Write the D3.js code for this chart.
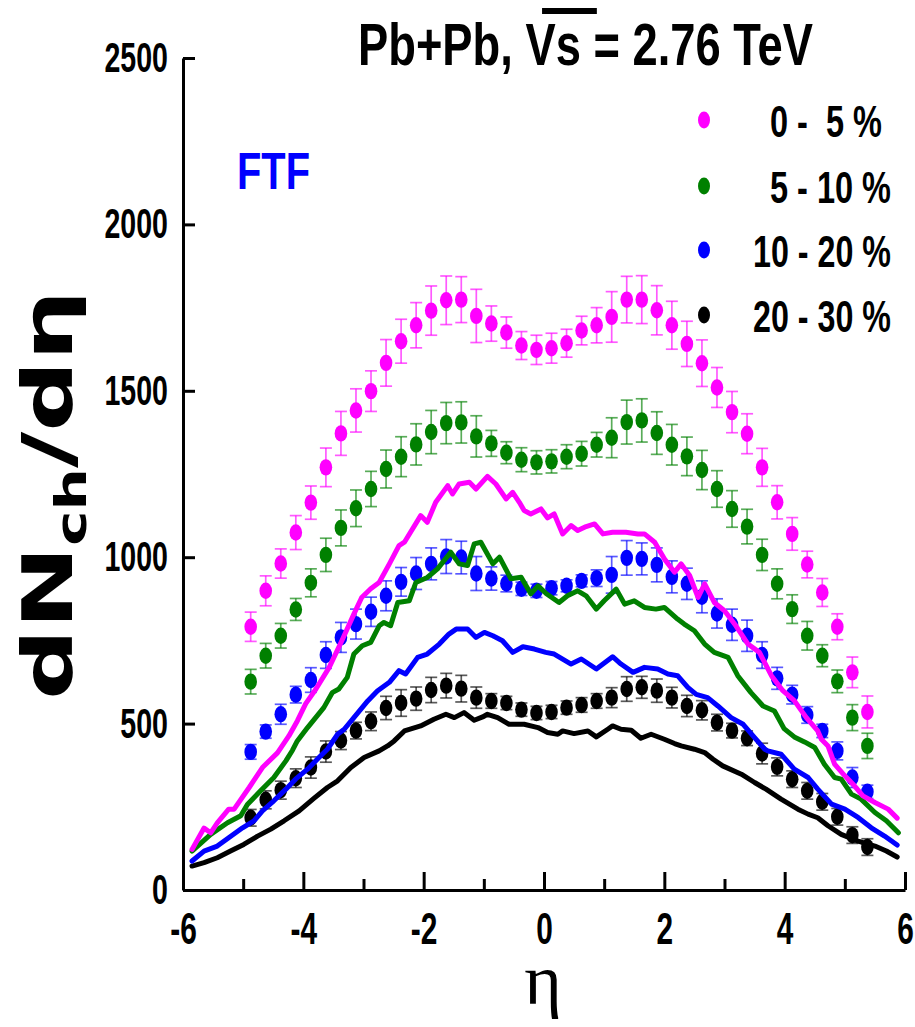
<!DOCTYPE html>
<html><head><meta charset="utf-8">
<script src="https://cdn.jsdelivr.net/npm/d3@7"></script>
<style>
html,body{margin:0;padding:0;background:#fff;}
svg{display:block;}
text{font-family:"Liberation Sans",Arial,sans-serif;font-weight:bold;}
</style></head><body>
<svg id="c" width="915" height="1027"></svg>
<script>
// ---------- data ----------
const etaData = [-4.875,-4.625,-4.375,-4.125,-3.875,-3.625,-3.375,-3.125,-2.875,-2.625,-2.375,-2.125,-1.875,-1.625,-1.375,-1.125,-0.875,-0.625,-0.375,-0.125,
  0.125,0.375,0.625,0.875,1.125,1.375,1.625,1.875,2.125,2.375,2.625,2.875,3.125,3.375,3.625,3.875,4.125,4.375,4.625,4.875,5.125,5.375];
const centralityLabels = ["0 -  5 %","5 - 10 %","10 - 20 %","20 - 30 %"];
const seriesColors = ["#ff00ff","#008000","#0000ff","#000000"];

const data0_5   = [791,899,981,1074,1164,1270,1372,1441,1499,1584,1649,1697,1741,1772,1774,1725,1702,1675,1636,1623,
  1628,1643,1681,1697,1722,1774,1774,1742,1697,1641,1583,1510,1436,1371,1270,1165,1070,978,894,791,654,535];
const err0_5    = [44,45,44,51,50,58,66,65,61,70,66,68,74,73,69,80,53,47,42,44,45,42,43,53,76,70,72,74,72,68,70,60,62,60,57,50,49,40,42,39,46,48];
const data5_10  = [626,704,764,843,923,1007,1088,1147,1205,1265,1302,1339,1376,1403,1405,1363,1342,1314,1293,1285,
  1288,1302,1311,1338,1359,1406,1411,1373,1338,1303,1262,1205,1145,1092,1007,920,844,764,704,627,518,433];
const err5_10   = [37,37,37,33,42,50,54,55,53,57,60,62,65,62,62,62,39,33,36,35,35,36,37,37,60,66,65,64,61,58,59,55,55,52,47,45,43,43,33,34,39,38];
const data10_20 = [415,476,528,587,631,706,759,799,836,884,926,951,980,1002,999,951,936,921,905,899,
  907,914,929,937,947,998,995,977,941,920,881,831,797,764,706,636,587,526,478,418,338,295];
const err10_20  = [22,20,30,25,37,40,45,45,44,45,43,48,48,51,49,51,35,25,20,20,20,18,18,25,55,52,48,51,48,47,48,44,47,47,40,33,28,25,20,27,30,20];
const data20_30 = [217,271,300,336,368,416,449,479,507,547,562,575,601,614,605,578,568,562,542,532,
  535,548,556,568,578,604,609,599,578,553,540,503,479,456,410,370,333,298,265,220,165,129];
const err20_30  = [25,27,27,28,32,32,27,25,28,35,40,35,38,37,40,32,22,20,20,20,20,20,22,22,30,37,33,35,31,32,29,25,22,22,31,27,25,25,25,25,25,25];

// FTF model curves [eta, dN/deta]
const ftf0_5 = [[-5.85,122],[-5.65,186],[-5.54,172],[-5.43,202],[-5.24,243],[-5.15,243],[-4.90,308],[-4.68,368],[-4.43,412],[-4.24,463],[-4.10,508],[-3.96,560],
  [-3.79,604],[-3.57,669],[-3.36,749],[-3.16,829],[-3.03,879],[-2.88,905],[-2.74,924],[-2.57,980],[-2.41,1035],[-2.32,1045],[-2.05,1125],[-1.94,1105],[-1.80,1165],
  [-1.60,1215],[-1.52,1190],[-1.41,1220],[-1.24,1225],[-1.13,1205],[-0.94,1243],[-0.80,1220],[-0.63,1175],[-0.52,1195],[-0.41,1165],[-0.33,1140],[-0.22,1130],
  [-0.05,1145],[0.06,1118],[0.17,1130],[0.31,1070],[0.45,1095],[0.56,1080],[0.70,1092],[0.84,1100],[0.98,1070],[1.14,1075],[1.36,1075],[1.56,1070],[1.67,1070],
  [1.84,1045],[2.00,995],[2.17,955],[2.28,980],[2.42,945],[2.56,879],[2.67,920],[2.83,864],[3.00,839],[3.19,794],[3.39,739],[3.58,714],[3.78,644],[3.97,599],
  [4.16,569],[4.36,518],[4.55,478],[4.61,453],[4.72,433],[4.83,378],[5.00,343],[5.16,313],[5.30,283],[5.50,263],[5.72,243],[5.87,216]];
const ftf5_10 = [[-5.85,117],[-5.54,167],[-5.26,202],[-5.04,223],[-4.93,257],[-4.71,298],[-4.49,338],[-4.29,388],[-4.18,420],[-4.10,448],[-3.93,488],
  [-3.66,548],[-3.52,593],[-3.41,604],[-3.27,639],[-3.16,709],[-3.02,734],[-2.88,744],[-2.74,794],[-2.66,804],[-2.55,794],[-2.43,864],[-2.24,869],[-2.13,924],
  [-1.94,939],[-1.77,965],[-1.55,1015],[-1.41,980],[-1.27,975],[-1.16,1040],[-1.05,1045],[-0.85,980],[-0.74,1000],[-0.55,935],[-0.38,940],[-0.22,890],[-0.10,914],
  [0.04,890],[0.25,864],[0.39,884],[0.56,899],[0.70,884],[0.87,844],[1.00,869],[1.20,904],[1.34,859],[1.50,869],[1.67,849],[1.86,844],[2.00,849],[2.22,814],
  [2.33,799],[2.50,779],[2.67,739],[2.83,714],[3.06,699],[3.22,644],[3.44,593],[3.64,553],[3.83,538],[3.99,485],[4.16,460],[4.33,445],[4.50,428],[4.66,378],
  [4.83,338],[4.94,333],[5.11,288],[5.27,273],[5.50,233],[5.69,208],[5.89,172]];
const ftf10_20 = [[-5.85,87],[-5.65,117],[-5.43,132],[-5.24,157],[-5.01,187],[-4.82,208],[-4.68,238],[-4.49,268],[-4.29,303],[-4.13,333],[-3.93,363],[-3.74,398],
  [-3.60,423],[-3.43,468],[-3.32,483],[-3.16,518],[-2.93,568],[-2.77,598],[-2.57,624],[-2.41,659],[-2.30,649],[-2.10,699],[-1.94,709],[-1.74,739],[-1.58,769],
  [-1.46,784],[-1.27,784],[-1.13,759],[-0.99,774],[-0.85,764],[-0.69,749],[-0.52,714],[-0.35,731],[-0.16,724],[0.03,714],[0.17,709],[0.45,679],[0.62,694],
  [0.87,664],[1.14,701],[1.28,679],[1.48,654],[1.67,669],[1.89,664],[2.06,649],[2.22,644],[2.39,609],[2.53,588],[2.72,578],[2.89,553],[3.11,518],[3.31,498],
  [3.50,458],[3.67,423],[3.72,418],[3.94,408],[4.16,363],[4.39,338],[4.55,303],[4.78,258],[5.00,243],[5.22,218],[5.44,187],[5.66,162],[5.87,135]];
const ftf20_30 = [[-5.85,72],[-5.65,82],[-5.43,97],[-5.21,117],[-4.99,137],[-4.76,162],[-4.54,183],[-4.32,208],[-4.07,238],[-3.82,276],[-3.60,308],[-3.43,328],
  [-3.21,368],[-2.99,398],[-2.74,418],[-2.60,433],[-2.49,448],[-2.32,478],[-2.05,493],[-1.83,513],[-1.63,528],[-1.49,518],[-1.33,533],[-1.16,510],[-1.02,520],
  [-0.94,528],[-0.77,518],[-0.58,498],[-0.33,498],[-0.10,488],[0.06,473],[0.23,468],[0.31,478],[0.50,470],[0.73,478],[0.87,460],[1.06,483],[1.14,493],[1.28,483],
  [1.45,480],[1.61,456],[1.78,468],[2.00,453],[2.17,440],[2.28,433],[2.50,423],[2.67,413],[2.81,393],[2.97,373],[3.28,348],[3.50,323],[3.69,303],[3.94,273],
  [4.22,243],[4.39,228],[4.55,217],[4.72,193],[4.94,167],[5.22,147],[5.50,132],[5.69,117],[5.87,99]];

const xTicks = [-6,-4,-2,0,2,4,6];
const xMinorTicks = [-5,-3,-1,1,3,5];
const yTicks = [0,500,1000,1500,2000,2500];

// ---------- drawing ----------
const svg = d3.select("#c");
const x = d3.scaleLinear().domain([-6,6]).range([183,905]);
const y = d3.scaleLinear().domain([0,2500]).range([890,58]);

function narrow(sel, f){
  sel.each(function(){
    const L = this.getComputedTextLength();
    this.setAttribute("textLength", (L*f).toFixed(1));
    this.setAttribute("lengthAdjust","spacingAndGlyphs");
  });
}

const points = [data0_5, data5_10, data10_20, data20_30];
const errors = [err0_5, err5_10, err10_20, err20_30];
const curves = [ftf0_5, ftf5_10, ftf10_20, ftf20_30];

// data points with error bars
points.forEach((vals, si) => {
  const col = seriesColors[si];
  const g = svg.append("g");
  const rows = etaData.map((e,i)=>({eta:e, v:vals[i], err:errors[si][i]}));
  const eb = g.append("g").attr("stroke", col).attr("stroke-opacity",0.65).attr("stroke-width",1.7);
  eb.selectAll("line.v").data(rows).join("line").attr("class","v")
    .attr("x1",d=>x(d.eta)).attr("x2",d=>x(d.eta)).attr("y1",d=>y(d.v-d.err)).attr("y2",d=>y(d.v+d.err));
  eb.selectAll("line.t").data(rows).join("line").attr("class","t")
    .attr("x1",d=>x(d.eta)-6).attr("x2",d=>x(d.eta)+6).attr("y1",d=>y(d.v+d.err)).attr("y2",d=>y(d.v+d.err));
  eb.selectAll("line.b").data(rows).join("line").attr("class","b")
    .attr("x1",d=>x(d.eta)-6).attr("x2",d=>x(d.eta)+6).attr("y1",d=>y(d.v-d.err)).attr("y2",d=>y(d.v-d.err));
  g.selectAll("ellipse").data(rows).join("ellipse")
    .attr("cx",d=>x(d.eta)).attr("cy",d=>y(d.v)).attr("rx",6.3).attr("ry",8.2).attr("fill",col);
});

// model curves (drawn on top)
const line = d3.line().x(d=>x(d[0])).y(d=>y(d[1]));
[3,2,1,0].forEach(si=>{
  svg.append("path").datum(curves[si]).attr("d",line).attr("fill","none")
    .attr("stroke",seriesColors[si]).attr("stroke-width",5).attr("stroke-linejoin","round").attr("stroke-linecap","round");
});

// axes
const gx = svg.append("g").attr("transform","translate(0,890)")
  .call(d3.axisBottom(x).tickValues(xTicks).tickSize(-18).tickSizeOuter(0).tickPadding(23).tickFormat(d=>String(d)));
const gxm = svg.append("g").attr("transform","translate(0,890)")
  .call(d3.axisBottom(x).tickValues(xMinorTicks).tickSize(-11).tickSizeOuter(0).tickFormat(""));
gxm.select(".domain").remove();
const gy = svg.append("g").attr("transform","translate(183,0)")
  .call(d3.axisLeft(y).tickValues(yTicks).tickSize(-12).tickSizeOuter(0).tickPadding(15).tickFormat(d=>String(d)));
[gx,gxm,gy].forEach(g=>{
  g.attr("font-size",44).attr("font-family",null);
  g.selectAll(".domain").attr("stroke","#000").attr("stroke-width",3);
  g.selectAll(".tick line").attr("stroke","#000").attr("stroke-width",3);
  g.selectAll(".tick text").attr("fill","#000");
});
gy.attr("font-size",42);
narrow(gx.selectAll(".tick text"), 0.68);
narrow(gy.selectAll(".tick text"), 0.68);

// axis titles
svg.append("text").attr("x",543).attr("y",1004).attr("text-anchor","middle")
  .style("font-family","'Liberation Serif','Times New Roman',serif").style("font-weight","normal")
  .attr("font-size",72).text("η");

const yl = svg.append("text").attr("transform","translate(72,700) rotate(-90)")
  .style("font-family","'DejaVu Sans',sans-serif").attr("font-size",70);
yl.append("tspan").text("dN");
yl.append("tspan").attr("dy",14).attr("font-size",42).text("ch");
yl.append("tspan").attr("dy",-14).text("/dη");
yl.attr("textLength",410).attr("lengthAdjust","spacingAndGlyphs");

// title
const titleStr = "Pb+Pb, Vs = 2.76 TeV";
const title = svg.append("text").attr("x",358).attr("y",65).attr("font-size",60)
  .attr("textLength",455).attr("lengthAdjust","spacingAndGlyphs").style("white-space","pre").text(titleStr);
{
  const n = title.node();
  const iv = titleStr.indexOf("V"), is = iv+1;
  const bv = n.getExtentOfChar(iv), bs = n.getExtentOfChar(is);
  const x0 = bv.x + bv.width*0.55, x1 = bs.x + bs.width + 16;
  svg.append("rect").attr("x",x0).attr("y",8).attr("width",x1-x0).attr("height",6).attr("fill","#000");
}

// FTF label
svg.append("text").attr("x",237).attr("y",189).attr("font-size",52).attr("fill","#0000ff")
  .attr("textLength",73).attr("lengthAdjust","spacingAndGlyphs").text("FTF");

// legend
const legY = [120,186,250,315];
const legTextX = [770,770,753,753];
const legTextW = [112,121,138,138];
centralityLabels.forEach((lab,i)=>{
  svg.append("ellipse").attr("cx",704).attr("cy",legY[i]).attr("rx",6).attr("ry",8.5).attr("fill",seriesColors[i]);
  svg.append("text").attr("x",legTextX[i]).attr("y",legY[i]+17).attr("font-size",44)
    .style("white-space","pre").attr("textLength",legTextW[i]).attr("lengthAdjust","spacingAndGlyphs").text(lab);
});
</script>
</body></html>
